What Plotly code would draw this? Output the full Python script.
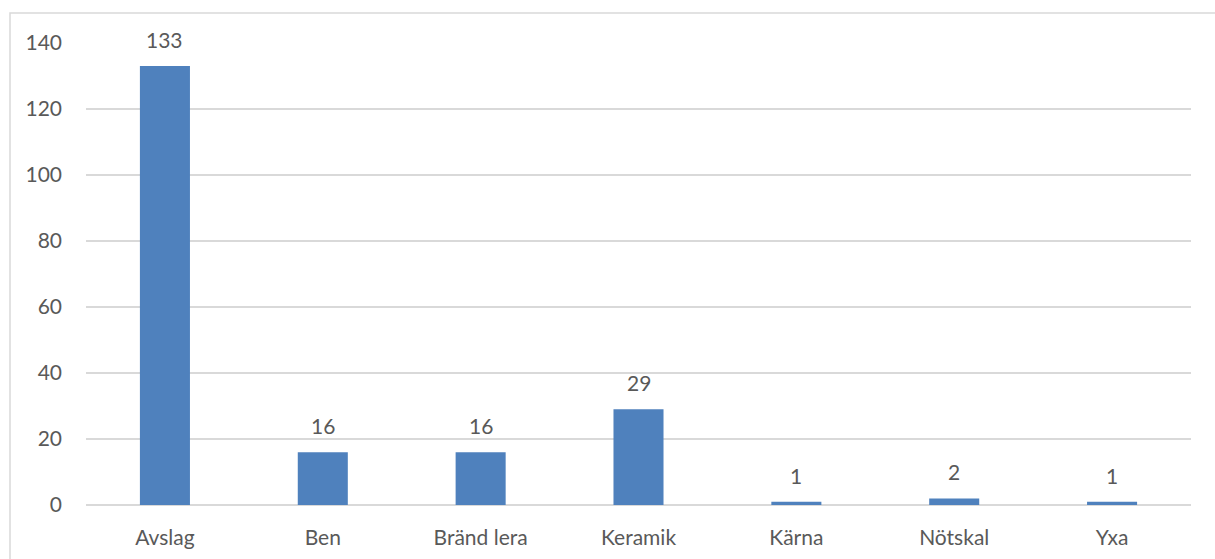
import plotly.graph_objects as go

# Fyndkategorier och antal
categories = ["Avslag", "Ben", "Bränd lera", "Keramik", "Kärna", "Nötskal", "Yxa"]
counts = [133, 16, 16, 29, 1, 2, 1]
y_ticks = [0, 20, 40, 60, 80, 100, 120, 140]

W, H = 1215, 559
ML, MR, MT, MB = 86, 24, 43, 54
PW, PH = W - ML - MR, H - MT - MB

TEXT = "#595959"
GRID = "#D9D9D9"
BAR = "#4F81BD"
FONT = "Lato, 'Open Sans', sans-serif"

fig = go.Figure(
    go.Bar(
        x=categories,
        y=counts,
        marker=dict(color=BAR, line=dict(width=0)),
        hoverinfo="x+y",
    )
)

# Värdeetiketter ovanför staplarna
for c, v in zip(categories, counts):
    fig.add_annotation(
        x=c, y=v, text=str(v), showarrow=False,
        yanchor="bottom", yshift=12,
        font=dict(family=FONT, size=21, color=TEXT),
    )

# Ram runt diagramytan
fig.add_shape(
    type="rect", xref="paper", yref="paper", layer="below",
    x0=(10 - ML) / PW, x1=(W + 5 - ML) / PW,
    y0=-(MB + 5) / PH, y1=1 + (MT - 13) / PH,
    line=dict(color=GRID, width=1.5), fillcolor="rgba(0,0,0,0)",
)

fig.update_layout(
    width=W, height=H,
    margin=dict(l=ML, r=MR, t=MT, b=MB),
    paper_bgcolor="white", plot_bgcolor="white",
    bargap=0.683,
    showlegend=False,
    font=dict(family=FONT, size=21, color=TEXT),
    xaxis=dict(
        showgrid=False, showline=False, zeroline=False,
        ticks="", ticklabelstandoff=18, automargin=False,
        tickfont=dict(family=FONT, size=21, color=TEXT),
    ),
    yaxis=dict(
        range=[0, 140], tickvals=y_ticks, automargin=False,
        showgrid=True, gridcolor=GRID, gridwidth=1.5,
        zeroline=True, zerolinecolor=GRID, zerolinewidth=1.5,
        showline=False, ticks="", ticklabelstandoff=23,
        tickfont=dict(family=FONT, size=21, color=TEXT),
    ),
)

fig.write_html("out.html")
